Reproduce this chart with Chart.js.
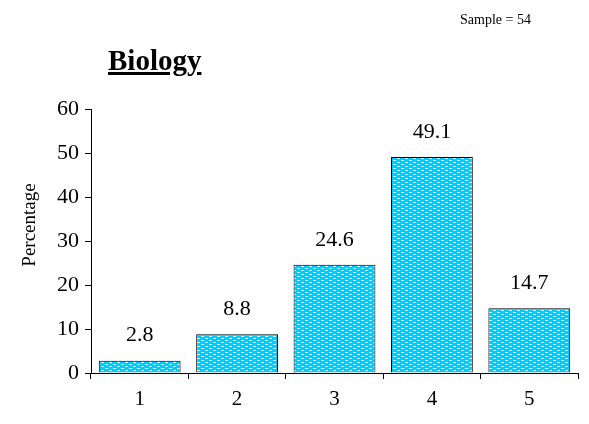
<!DOCTYPE html>
<html>
<head>
<meta charset="utf-8">
<script src="https://cdn.jsdelivr.net/npm/chart.js@4.4.0/dist/chart.umd.min.js"></script>
<style>
  html, body { margin: 0; padding: 0; background: #fff; }
  #wrap { position: relative; width: 589px; height: 424px; }
  #sample { position: absolute; left: 460px; top: 12px; font: 14px "Liberation Serif", serif; color: #000; }
  #title { position: absolute; left: 108px; top: 44px; font: bold 29px "Liberation Serif", serif; text-decoration: underline; text-decoration-thickness: 3px; color: #000; }
</style>
</head>
<body>
<div id="wrap">
  <canvas id="chart" width="589" height="424"></canvas>
  <div id="sample">Sample = 54</div>
  <div id="title">Biology</div>
</div>
<script>
const categories = ['1', '2', '3', '4', '5'];
const percentages = [2.8, 8.8, 24.6, 49.1, 14.7];
const yTicks = [0, 10, 20, 30, 40, 50, 60];
const yTitle = 'Percentage';

// dotted cyan fill like the original spreadsheet pattern
const makePattern = () => {
  const tile = document.createElement('canvas');
  tile.width = 8;
  tile.height = 4;
  const t = tile.getContext('2d');
  t.fillStyle = '#00CCFF';
  t.fillRect(0, 0, 8, 4);
  t.fillStyle = 'rgba(255,255,255,0.9)';
  t.fillRect(1, 0, 3, 1);
  t.fillRect(5, 2, 3, 1);
  return document.getElementById('chart').getContext('2d').createPattern(tile, 'repeat');
};

const valueLabels = {
  id: 'valueLabels',
  afterDatasetsDraw(chart) {
    const ctx = chart.ctx;
    const meta = chart.getDatasetMeta(0);
    ctx.save();
    ctx.font = '22px "Liberation Serif", serif';
    ctx.fillStyle = '#000';
    ctx.textAlign = 'center';
    ctx.textBaseline = 'middle';
    meta.data.forEach((bar, i) => {
      ctx.fillText(percentages[i].toFixed(1), bar.x, bar.y - 25);
    });
    // rotated axis title
    ctx.font = '19px "Liberation Serif", serif';
    ctx.translate(30, 225);
    ctx.rotate(-Math.PI / 2);
    ctx.fillText(yTitle, 0, 0);
    ctx.restore();
  }
};

new Chart(document.getElementById('chart'), {
  type: 'bar',
  data: {
    labels: categories,
    datasets: [{
      data: percentages,
      backgroundColor: makePattern(),
      borderColor: '#000',
      borderWidth: 1,
      categoryPercentage: 0.84,
      barPercentage: 1.0
    }]
  },
  options: {
    responsive: false,
    animation: false,
    layout: { padding: { top: 109, right: 11, left: 0, bottom: 0 } },
    plugins: {
      legend: { display: false },
      tooltip: { enabled: false }
    },
    scales: {
      x: {
        grid: { offset: true, drawOnChartArea: false, drawTicks: true, tickLength: 6, color: '#000' },
        border: { display: true, color: '#000', width: 1 },
        ticks: { color: '#000', font: { family: '"Liberation Serif", serif', size: 21 }, padding: 8 },
        afterFit: (scale) => { scale.height = 51; }
      },
      y: {
        min: 0,
        max: 60,
        afterBuildTicks: (scale) => { scale.ticks = yTicks.map(v => ({ value: v })); },
        grid: { drawOnChartArea: false, drawTicks: true, tickLength: 6, color: '#000' },
        border: { display: true, color: '#000', width: 1 },
        ticks: { color: '#000', font: { family: '"Liberation Serif", serif', size: 22 }, padding: 6 },
        afterFit: (scale) => { scale.width = 91; }
      }
    }
  },
  plugins: [valueLabels]
});
</script>
</body>
</html>
